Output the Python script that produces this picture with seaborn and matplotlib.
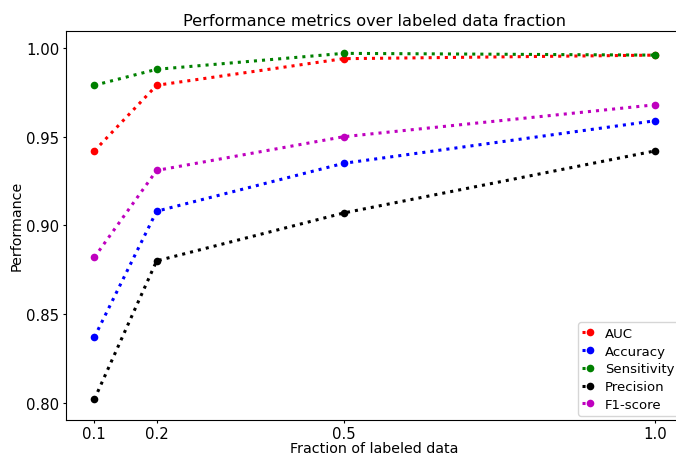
import matplotlib
matplotlib.use("Agg")
import matplotlib.pyplot as plt
import seaborn as sns
import pandas as pd

fractions = [0.1, 0.2, 0.5, 1.0]
auc = [0.942, 0.979, 0.994, 0.996]
accuracy = [0.837, 0.908, 0.935, 0.959]
sensitivity = [0.979, 0.988, 0.997, 0.996]
precision = [0.802, 0.880, 0.907, 0.942]
f1_score = [0.882, 0.931, 0.950, 0.968]
metric_names = ["AUC", "Accuracy", "Sensitivity", "Precision", "F1-score"]
colors = ["red", "blue", "green", "black", "m"]

series = [auc, accuracy, sensitivity, precision, f1_score]
rows = []
for name, vals in zip(metric_names, series):
    for f, v in zip(fractions, vals):
        rows.append({"Fraction": f, "Performance": v, "Metric": name})
df = pd.DataFrame(rows)

fig = plt.figure(figsize=(6.76, 4.56), dpi=100)
ax = fig.add_axes([65.7 / 676, 35.5 / 456, 617.3 / 676, 388.5 / 456])

sns.lineplot(data=df, x="Fraction", y="Performance", hue="Metric",
             hue_order=metric_names, palette=colors, ax=ax,
             linestyle=":", linewidth=2.2, marker="o", markersize=5.5,
             markeredgewidth=0)

ax.set_xticks(fractions)
ax.set_xticklabels(["0.1", "0.2", "0.5", "1.0"])
ax.set_xlim(0.054, 1.045)
ax.set_ylim(0.7906, 1.0096)
ax.set_yticks([0.80, 0.85, 0.90, 0.95, 1.00])
ax.tick_params(labelsize=10.7, length=2.5, pad=2.0)
ax.set_xlabel("Fraction of labeled data", fontsize=10.3, labelpad=0.5)
ax.set_ylabel("Performance", fontsize=10.3, labelpad=1.5)
ax.set_title("Performance metrics over labeled data fraction", fontsize=11.6, pad=4.5)
ax.legend(loc="lower right", fontsize=9.5, handlelength=1.1, handletextpad=0.6,
          labelspacing=0.36, borderaxespad=0.3, borderpad=0.35, title=None)

fig.savefig("out.png", dpi=100)
